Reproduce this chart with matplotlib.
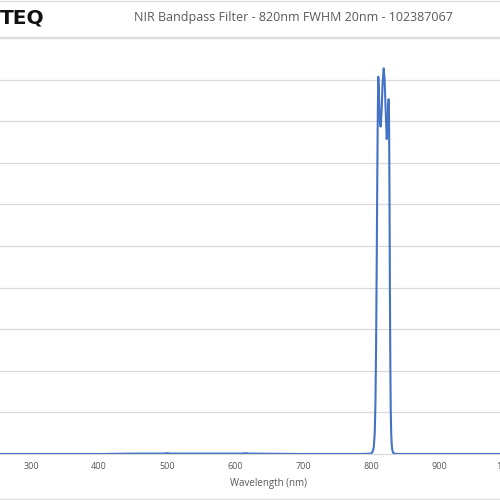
import matplotlib
matplotlib.use('Agg')
from matplotlib import pyplot as plt

# Transmission data (wavelength in nm, transmission in %)
wavelengths = [200, 250, 300, 350, 400, 450, 495, 500, 505, 550, 610, 615, 620,
               700, 780, 795, 800, 802, 804, 805.5, 806.5, 807.5, 808.5, 809.3,
               810, 810.7, 811.5, 812.5, 813.5, 814.3, 815.5, 817, 818.7, 820,
               821.5, 823.1, 824.2, 825.2, 826, 826.6, 827.2, 827.8, 828.4, 829,
               829.7, 830.5, 831.5, 833, 836, 845, 900, 1000, 1100]
transmission = [0.0, 0.0, 0.0, 0.0, 0.0, 0.1, 0.1, 0.2, 0.1, 0.1, 0.1, 0.2, 0.1,
                0.0, 0.0, 0.05, 0.1, 0.4, 1.5, 5, 12, 26, 48, 68,
                82, 90.7, 88, 82, 79, 78.7, 82, 89, 92.7, 90,
                83, 75.7, 78, 83, 85.3, 80, 62, 40, 22, 11,
                5, 2.2, 0.8, 0.2, 0.05, 0.0, 0.0, 0.0, 0.0]

x_ticks = [200, 300, 400, 500, 600, 700, 800, 900, 1000, 1100]
y_ticks = [0, 10, 20, 30, 40, 50, 60, 70, 80, 90, 100]

title = 'NIR Bandpass Filter - 820nm FWHM 20nm - 102387067'
logo = 'TEQ'

plt.rcParams['font.family'] = ['Open Sans', 'DejaVu Sans']

fig = plt.figure(figsize=(5, 5), dpi=100)
# axes run past the canvas edges, like the cropped original
ax = fig.add_axes([-0.074, 0.092, 1.224, 0.832])
ax.plot(wavelengths, transmission, color='#4472C4', linewidth=1.5)

ax.set_xlim(200, 1100)
ax.set_ylim(0, 100)
ax.set_xticks(x_ticks)
ax.set_yticks(y_ticks)
ax.set_yticklabels([])
ax.tick_params(axis='both', length=0, labelsize=6.5, labelcolor='#595959')
ax.tick_params(axis='x', pad=6)
ax.grid(axis='y', color='#d9d9d9', linewidth=0.9)
ax.set_axisbelow(True)
for side in ['left', 'right', 'top']:
    ax.spines[side].set_visible(False)
ax.spines['bottom'].set_color('#d9d9d9')
ax.set_xlabel('Wavelength (nm)', fontsize=7, color='#595959', labelpad=5)

# header band with logo and title
fig.text(0.0, 0.963, logo, fontsize=14.5, fontweight='bold', color='#111111',
         ha='left', va='center', family='DejaVu Sans')
fig.text(0.587, 0.964, title, fontsize=9, color='#595959', ha='center', va='center')
fig.add_artist(plt.Line2D([0, 1], [0.998, 0.998], color='#e0e0e0', linewidth=1))
fig.add_artist(plt.Line2D([0, 1], [0.926, 0.926], color='#e0e0e0', linewidth=1))
fig.add_artist(plt.Line2D([0, 1], [0.003, 0.003], color='#e0e0e0', linewidth=1))

fig.savefig('out.png', dpi=100)
